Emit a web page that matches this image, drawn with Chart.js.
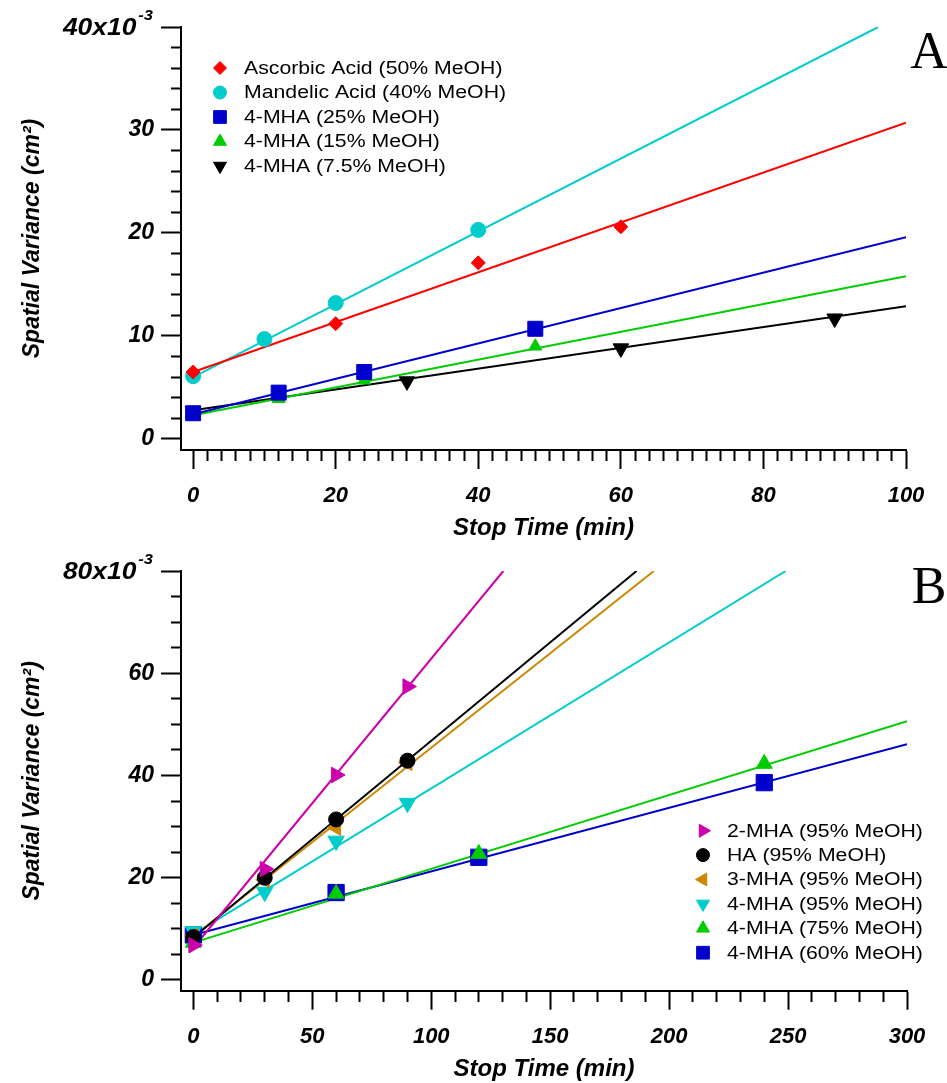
<!DOCTYPE html>
<html>
<head>
<meta charset="utf-8">
<script src="https://cdn.jsdelivr.net/npm/chart.js@4.4.1/dist/chart.umd.min.js"></script>
<style>
  body { margin: 0; background: #fff; }
  canvas { display: block; }
</style>
</head>
<body>
<canvas id="grafico-a" width="947" height="540"></canvas>
<canvas id="grafico-b" width="947" height="543"></canvas>
<script>
// Panel A (valores en unidades de 10^-3 cm2)
const nombresA = ['Ascorbic Acid (50% MeOH)', 'Mandelic Acid (40% MeOH)', '4-MHA (25% MeOH)', '4-MHA (15% MeOH)', '4-MHA (7.5% MeOH)'];
const tiemposA = [[0, 20, 40, 60], [0, 10, 20, 40], [0, 12, 24, 48], [0, 12, 24, 48], [0, 30, 60, 90]];
const varianzaA = [[6.5, 11.2, 17.1, 20.6], [6.1, 9.7, 13.2, 20.3], [2.5, 4.5, 6.5, 10.7], [2.4, 3.9, 5.7, 9.0], [2.7, 5.6, 8.8, 11.7]];
const ajusteXA = [[0, 100], [0, 96.1], [0, 100], [0, 100], [0, 100]];
const ajusteYA = [[6.5, 30.7], [6.0, 40], [2.4, 19.6], [2.3, 15.8], [2.8, 12.9]];
const ticksXA = [0, 20, 40, 60, 80, 100];
const ticksYA = [0, 10, 20, 30, 40];

// Panel B
const nombresB = ['2-MHA (95% MeOH)', 'HA (95% MeOH)', '3-MHA (95% MeOH)', '4-MHA (95% MeOH)', '4-MHA (75% MeOH)', '4-MHA (60% MeOH)'];
const tiemposB = [[0, 30, 60, 90], [0, 30, 60, 90], [0, 30, 60, 90], [0, 30, 60, 90], [0, 60, 120, 240], [0, 60, 120, 240]];
const varianzaB = [[6.8, 21.7, 40.1, 57.4], [8.4, 20.0, 31.4, 42.9], [8.6, 19.6, 29.8, 42.5], [9.5, 17.2, 27.2, 34.6], [7.3, 16.9, 24.7, 42.3], [8.8, 17.1, 24.0, 38.6]];
const ajusteXB = [[0, 130.3], [0, 186.3], [0, 193.6], [0, 249], [0, 300], [0, 300]];
const ajusteYB = [[6.3, 80], [8.3, 80], [8.5, 80], [8.9, 80], [7.3, 50.6], [8.8, 46.1]];
const ticksXB = [0, 50, 100, 150, 200, 250, 300];
const ticksYB = [0, 20, 40, 60, 80];

// estilos
const coloresA = ['#ff0000', '#00cccc', '#0000cc', '#00cc00', '#000000'];
const formasA = [['rectRot', 0, 7], ['circle', 0, 7.5], ['rect', 0, 10.6], ['triangle', 0, 7.5], ['triangle', 180, 9]];
const leyendaTamA = [6.5, 6.5, 9, 7.5, 7.5];
const coloresB = ['#cc00aa', '#000000', '#cc8800', '#00cccc', '#00cc00', '#0000cc'];
const formasB = [['triangle', 90, 9], ['circle', 0, 7.5], ['triangle', 270, 9], ['triangle', 180, 9.5], ['triangle', 0, 9.2], ['rect', 0, 11.5]];
const leyendaTamB = [7.5, 6.5, 7.5, 7.5, 7.5, 9];

const familia = 'Liberation Sans, Arial, sans-serif';
const fuenteTickX = { family: familia, size: 22, weight: 'bold', style: 'italic' };
const fuenteTickY = { family: familia, size: 23, weight: 'bold', style: 'italic' };
const fuenteTituloX = { family: familia, size: 24, weight: 'bold', style: 'italic' };
const fuenteTituloY = { family: familia, size: 23, weight: 'bold', style: 'italic' };

function armarDatasets(nombres, tiempos, varianza, ajX, ajY, colores, formas, leyTam) {
    const sets = [];
    nombres.forEach((nombre, i) => {
        sets.push({
            label: nombre,
            data: tiempos[i].map((t, j) => ({ x: t, y: varianza[i][j] })),
            showLine: false,
            pointStyle: formas[i][0],
            pointRotation: formas[i][1],
            pointRadius: formas[i][2],
            backgroundColor: colores[i],
            borderColor: colores[i],
            pointBorderWidth: 1,
            order: 0,
            enLeyenda: true,
            tamLeyenda: leyTam[i]
        });
        sets.push({
            label: nombre + ' fit',
            data: ajX[i].map((t, j) => ({ x: t, y: ajY[i][j] })),
            showLine: true,
            pointRadius: 0,
            borderColor: colores[i],
            borderWidth: 2,
            order: 1
        });
    });
    return sets;
}

function ejeX(min, max, paso, mayores, alto, padTitulo) {
    return {
        type: 'linear', position: 'bottom', min: min, max: max,
        afterBuildTicks: s => {
            const t = [];
            for (let v = 0; v <= max; v += paso) t.push({ value: v });
            s.ticks = t;
        },
        afterFit: s => { s.height = alto; },
        border: { color: '#000', width: 2 },
        grid: {
            drawOnChartArea: false, tickLength: 19, tickWidth: 2, tickColor: '#000',
            tickBorderDash: c => (c.tick && !mayores.includes(c.tick.value)) ? [10, 40] : []
        },
        ticks: {
            autoSkip: false, maxRotation: 0, minRotation: 0, padding: 14, color: '#000', font: fuenteTickX,
            callback: v => mayores.includes(v) ? String(v) : ''
        },
        title: { display: true, text: 'Stop Time (min)', color: '#000', font: fuenteTituloX, padding: { top: 0, bottom: padTitulo } }
    };
}

function ejeY(min, max, paso, mayores, tope) {
    return {
        type: 'linear', position: 'left', min: min, max: max,
        afterBuildTicks: s => {
            const t = [];
            for (let v = 0; v <= max; v += paso) t.push({ value: v });
            s.ticks = t;
        },
        afterFit: s => { s.width = 181; },
        border: { color: '#000', width: 2 },
        grid: {
            drawOnChartArea: false, tickLength: 20, tickWidth: 2, tickColor: '#000',
            tickBorderDash: c => (c.tick && !mayores.includes(c.tick.value)) ? [0, 10, 10, 40] : []
        },
        ticks: {
            autoSkip: false, padding: 7, color: '#000', font: fuenteTickY,
            callback: v => (mayores.includes(v) && v !== tope) ? String(v) : ''
        },
        title: { display: true, text: 'Spatial Variance (cm²)', color: '#000', font: fuenteTituloY, padding: { top: 19, bottom: 0 } }
    };
}

// leyenda, etiqueta con exponente y letra del panel
const anotaciones = {
    id: 'anotaciones',
    afterDraw(chart, args, op) {
        const ctx = chart.ctx;
        ctx.save();
        // leyenda dentro del area
        let fila = 0;
        chart.data.datasets.forEach(ds => {
            if (!ds.enLeyenda) return;
            const y = op.leyY + fila * op.leyPaso;
            ctx.fillStyle = ds.backgroundColor;
            ctx.strokeStyle = ds.borderColor;
            ctx.lineWidth = 1;
            Chart.helpers.drawPoint(ctx, { pointStyle: ds.pointStyle, rotation: ds.pointRotation, radius: ds.tamLeyenda, borderWidth: 1 }, op.leyX, y);
            ctx.save();
            ctx.fillStyle = '#000';
            ctx.font = '18px "Liberation Sans", Arial, sans-serif';
            ctx.textAlign = 'left';
            ctx.textBaseline = 'middle';
            ctx.translate(op.leyX + 24, y + 1);
            ctx.scale(1.18, 1);
            ctx.fillText(ds.label, 0, 0);
            ctx.restore();
            fila++;
        });
        // etiqueta superior del eje y
        const ey = chart.scales.y;
        const py = ey.getPixelForValue(op.tope);
        ctx.fillStyle = '#000';
        ctx.textAlign = 'right';
        ctx.textBaseline = 'alphabetic';
        const derecha = 153;
        ctx.save();
        ctx.translate(derecha, py - 7);
        ctx.scale(1.1, 1);
        ctx.font = 'italic bold 15px "Liberation Sans", Arial, sans-serif';
        ctx.fillText('-3', 0, 0);
        const anchoExp = ctx.measureText('-3').width * 1.1;
        ctx.restore();
        ctx.save();
        ctx.translate(derecha - anchoExp - 2, py + 8);
        ctx.scale(1.1, 1);
        ctx.font = 'italic bold 24px "Liberation Sans", Arial, sans-serif';
        ctx.fillText(op.tope + 'x10', 0, 0);
        ctx.restore();
        // letra del panel
        ctx.font = '52px "Liberation Serif", "Times New Roman", serif';
        ctx.textAlign = 'center';
        ctx.fillText(op.letra, 929, op.letraY);
        ctx.restore();
    }
};

const graficoA = new Chart(document.getElementById('grafico-a'), {
    type: 'scatter',
    data: { datasets: armarDatasets(nombresA, tiemposA, varianzaA, ajusteXA, ajusteYA, coloresA, formasA, leyendaTamA) },
    options: {
        responsive: false, animation: false, events: [],
        layout: { padding: { top: 27, right: 41, bottom: 0, left: 0 } },
        scales: { x: ejeX(-1.7, 100, 2, ticksXA, 90, -3), y: ejeY(-1.07, 40, 2, ticksYA, 40) },
        plugins: {
            legend: { display: false }, tooltip: { enabled: false },
            anotaciones: { leyX: 220, leyY: 68, leyPaso: 24.5, tope: 40, letra: 'A', letraY: 68 }
        }
    },
    plugins: [anotaciones]
});

const graficoB = new Chart(document.getElementById('grafico-b'), {
    type: 'scatter',
    data: { datasets: armarDatasets(nombresB, tiemposB, varianzaB, ajusteXB, ajusteYB, coloresB, formasB, leyendaTamB) },
    options: {
        responsive: false, animation: false, events: [],
        layout: { padding: { top: 31, right: 40, bottom: 0, left: 0 } },
        scales: { x: ejeX(-5.2, 300, 10, ticksXB, 92.3, -1), y: ejeY(-2.1, 80, 5, ticksYB, 80) },
        plugins: {
            legend: { display: false }, tooltip: { enabled: false },
            anotaciones: { leyX: 703, leyY: 290.7, leyPaso: 24.4, tope: 80, letra: 'B', letraY: 63 }
        }
    },
    plugins: [anotaciones]
});
</script>
</body>
</html>
